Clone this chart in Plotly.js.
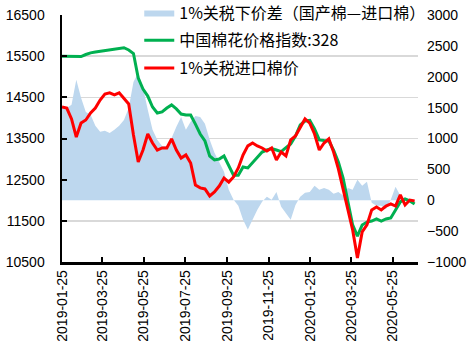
<!DOCTYPE html>
<html>
<head>
<meta charset="utf-8">
<script src="https://cdn.plot.ly/plotly-3.0.1.min.js"></script>
<style>html,body{margin:0;padding:0;background:#fff;}#chart{width:473px;height:355px;}</style>
</head>
<body>
<div id="chart"></div>
<script>
var dates = [
"2019-01-25","2019-02-01","2019-02-08","2019-02-15","2019-02-22","2019-03-01","2019-03-08","2019-03-15","2019-03-22","2019-03-29",
"2019-04-05","2019-04-12","2019-04-19","2019-04-26","2019-05-03","2019-05-10","2019-05-17","2019-05-24","2019-05-31","2019-06-07",
"2019-06-14","2019-06-21","2019-06-28","2019-07-05","2019-07-12","2019-07-19","2019-07-26","2019-08-02","2019-08-09","2019-08-16",
"2019-08-23","2019-08-30","2019-09-06","2019-09-13","2019-09-20","2019-09-27","2019-10-04","2019-10-11","2019-10-18","2019-10-25",
"2019-11-01","2019-11-08","2019-11-15","2019-11-22","2019-11-29","2019-12-06","2019-12-13","2019-12-20","2019-12-27","2020-01-03",
"2020-01-10","2020-01-17","2020-01-24","2020-01-31","2020-02-07","2020-02-14","2020-02-21","2020-02-28","2020-03-06","2020-03-13",
"2020-03-20","2020-03-27","2020-04-03","2020-04-10","2020-04-17","2020-04-24","2020-05-01","2020-05-08","2020-05-15","2020-05-22",
"2020-05-29","2020-06-05","2020-06-12","2020-06-19","2020-06-26"
];
// 中国棉花价格指数:328 (left axis)
var ccIndex = [
15500,15500,15500,15490,15490,15540,15580,15600,15615,15640,
15650,15660,15675,15705,15650,15565,14970,14700,14530,14265,
14120,14145,14240,14315,14220,14095,14070,14070,13850,13610,
13440,13075,12980,13000,13075,12830,12610,12610,12810,12785,
12905,13025,13170,13220,13255,13220,13180,13280,13365,13560,
13830,13925,13940,13730,13465,13450,13440,13220,12930,12540,
11935,11400,11130,11400,11470,11495,11545,11495,11545,11570,
11765,11960,12030,11985,11910
];
// 1%关税进口棉价 (left axis)
var importPrice = [
14265,14240,13975,13535,13875,13950,14120,14240,14435,14580,
14610,14560,14610,14485,14340,13585,12930,13220,13610,13390,
13220,13270,13270,13490,13220,13025,13100,12905,12370,12300,
12275,12105,12200,12345,12540,12440,12565,12785,13100,13320,
13390,13320,13270,13195,13270,12980,13170,13075,13465,13560,
13780,13975,13875,13610,13220,13390,13490,13170,12760,12250,
11715,11280,10600,11230,11400,11765,11835,11765,11860,11910,
11860,12130,11885,12005,11985
];
// 1%关税下价差（国产棉—进口棉） (right axis)
var spread = [
1510,1495,1545,1950,1660,1430,1385,1205,1110,1125,
1090,1140,1205,1300,1495,1915,2065,1820,1465,1140,
980,880,880,1010,1190,1350,1140,1270,1365,1350,
1240,980,770,625,460,170,10,-90,-315,-475,
-315,-155,-25,55,10,135,-105,-220,-315,-75,
55,120,135,235,170,200,170,105,135,75,
200,170,330,235,300,-40,-90,-90,-140,10,
220,75,10,-10,-40
];
var leftTicks = [10500,11500,12500,13500,14500,15500,16500];
var rightTicks = [-1000,-500,0,500,1000,1500,2000,2500,3000];

var numFont = {family: "Liberation Sans, Arial, sans-serif", size: 14, color: "#000"};
var traces = [
  {x: dates, y: spread, yaxis: "y", type: "scatter", mode: "lines", fill: "tozeroy",
   fillcolor: "#BDD7EE", line: {width: 0, color: "#BDD7EE"},
   name: "1%关税下价差（国产棉—进口棉）", legendgroup: "a"},
  {x: dates, y: ccIndex, yaxis: "y2", type: "scatter", mode: "lines",
   line: {width: 3, color: "#00B050"}, name: "中国棉花价格指数:328", legendgroup: "b"},
  {x: dates, y: importPrice, yaxis: "y2", type: "scatter", mode: "lines",
   line: {width: 3, color: "#FF0000"}, name: "1%关税进口棉价", legendgroup: "c"}
];
var layout = {
  width: 473, height: 355,
  margin: {l: 62, r: 55, t: 15, b: 93, autoexpand: false},
  paper_bgcolor: "#fff", plot_bgcolor: "rgba(0,0,0,0)",
  showlegend: true,
  legend: {x: 0.217, xanchor: "left", y: 1.079, yanchor: "top", bgcolor: "rgba(0,0,0,0)",
           font: {family: "Noto Sans CJK SC, sans-serif", size: 16, color: "#000"},
           tracegroupgap: 4, traceorder: "grouped"},
  xaxis: {type: "date", range: ["2019-01-25", "2020-07-01"], tick0: "2019-01-25", dtick: "M2",
          tickformat: "%Y-%m-%d", tickangle: -90, ticks: "inside", ticklen: 5, tickwidth: 2,
          tickcolor: "#000", showline: true, linecolor: "#000", linewidth: 2.5, showgrid: false,
          zeroline: false, tickfont: numFont},
  yaxis: {range: [-1000, 3000], tickvals: rightTicks, side: "right",
          showgrid: false, zeroline: false, showline: false, ticks: "",
          tickfont: numFont, ticklabelstandoff: 8, tickformat: "d"},
  yaxis2: {range: [10500, 16500], tickvals: leftTicks, overlaying: "y", side: "left",
           ticks: "inside", ticklen: 5, tickwidth: 2,
           tickcolor: "#000", showline: true, linecolor: "#000", linewidth: 2.5,
           showgrid: true, gridcolor: "#D9D9D9", gridwidth: 1.5, zeroline: false,
           tickfont: numFont, ticklabelstandoff: 12, tickformat: "d"}
};
Plotly.newPlot("chart", traces, layout, {displayModeBar: false, staticPlot: true});
</script>
</body>
</html>
